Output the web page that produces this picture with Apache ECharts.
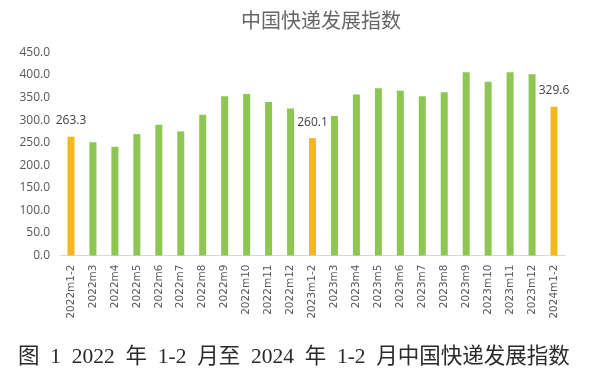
<!DOCTYPE html>
<html>
<head>
<meta charset="utf-8">
<script src="https://cdn.jsdelivr.net/npm/echarts@6/dist/echarts.min.js"></script>
<style>
html,body{margin:0;padding:0;background:#fff;}
#chart{width:600px;height:373px;}
</style>
</head>
<body>
<div id="chart"></div>
<script>
const categories = ["2022m1-2","2022m3","2022m4","2022m5","2022m6","2022m7","2022m8","2022m9","2022m10","2022m11","2022m12",
  "2023m1-2","2023m3","2023m4","2023m5","2023m6","2023m7","2023m8","2023m9","2023m10","2023m11","2023m12","2024m1-2"];
const values = [263.3,251,241,269,290,275,312,353,358,340,326,260.1,309,357,371,365,353,362,406,385,406,402,329.6];
const highlighted = ["2022m1-2","2023m1-2","2024m1-2"];
const yTicks = [0,50,100,150,200,250,300,350,400,450];
const titleText = "中国快递发展指数";
const captionText = "图  1  2022  年  1-2  月至  2024  年  1-2  月中国快递发展指数";

const chart = echarts.init(document.getElementById('chart'));
const data = values.map((v, i) => {
  const hi = highlighted.includes(categories[i]);
  return {
    value: v,
    itemStyle: { color: hi ? '#F4B918' : '#8EC653' },
    label: { show: hi }
  };
});
chart.setOption({
  animation: false,
  backgroundColor: '#fff',
  title: {
    text: titleText,
    left: 316, top: 5,
    textAlign: 'center',
    textStyle: { fontFamily: 'Noto Sans CJK SC', fontSize: 20, fontWeight: 'normal', color: '#666' }
  },
  graphic: [{
    type: 'text',
    left: 18, top: 347,
    style: {
      text: captionText,
      font: '21.5px "Liberation Serif", "Noto Sans CJK SC"',
      fill: '#2a2a2a'
    }
  }],
  grid: { left: 60, right: 35, top: 52.5, bottom: 117.5 },
  xAxis: {
    type: 'category',
    data: categories,
    axisLine: { lineStyle: { color: '#d9d9d9' } },
    axisTick: { show: false },
    axisLabel: { rotate: 90, fontSize: 10.5, color: '#595959', margin: 9, interval: 0, fontFamily: 'DejaVu Sans' }
  },
  yAxis: {
    type: 'value',
    min: yTicks[0], max: yTicks[yTicks.length - 1], interval: 50,
    splitLine: { show: false },
    axisLine: { show: false },
    axisTick: { show: false },
    axisLabel: { fontSize: 12, color: '#595959', margin: 10, formatter: v => v.toFixed(1), fontFamily: 'Open Sans' }
  },
  series: [{
    type: 'bar',
    data: data,
    barWidth: 7,
    label: { position: 'top', distance: 10, fontSize: 12, color: '#404040', fontFamily: 'Open Sans', formatter: p => p.value.toFixed(1) }
  }]
});
</script>
</body>
</html>
